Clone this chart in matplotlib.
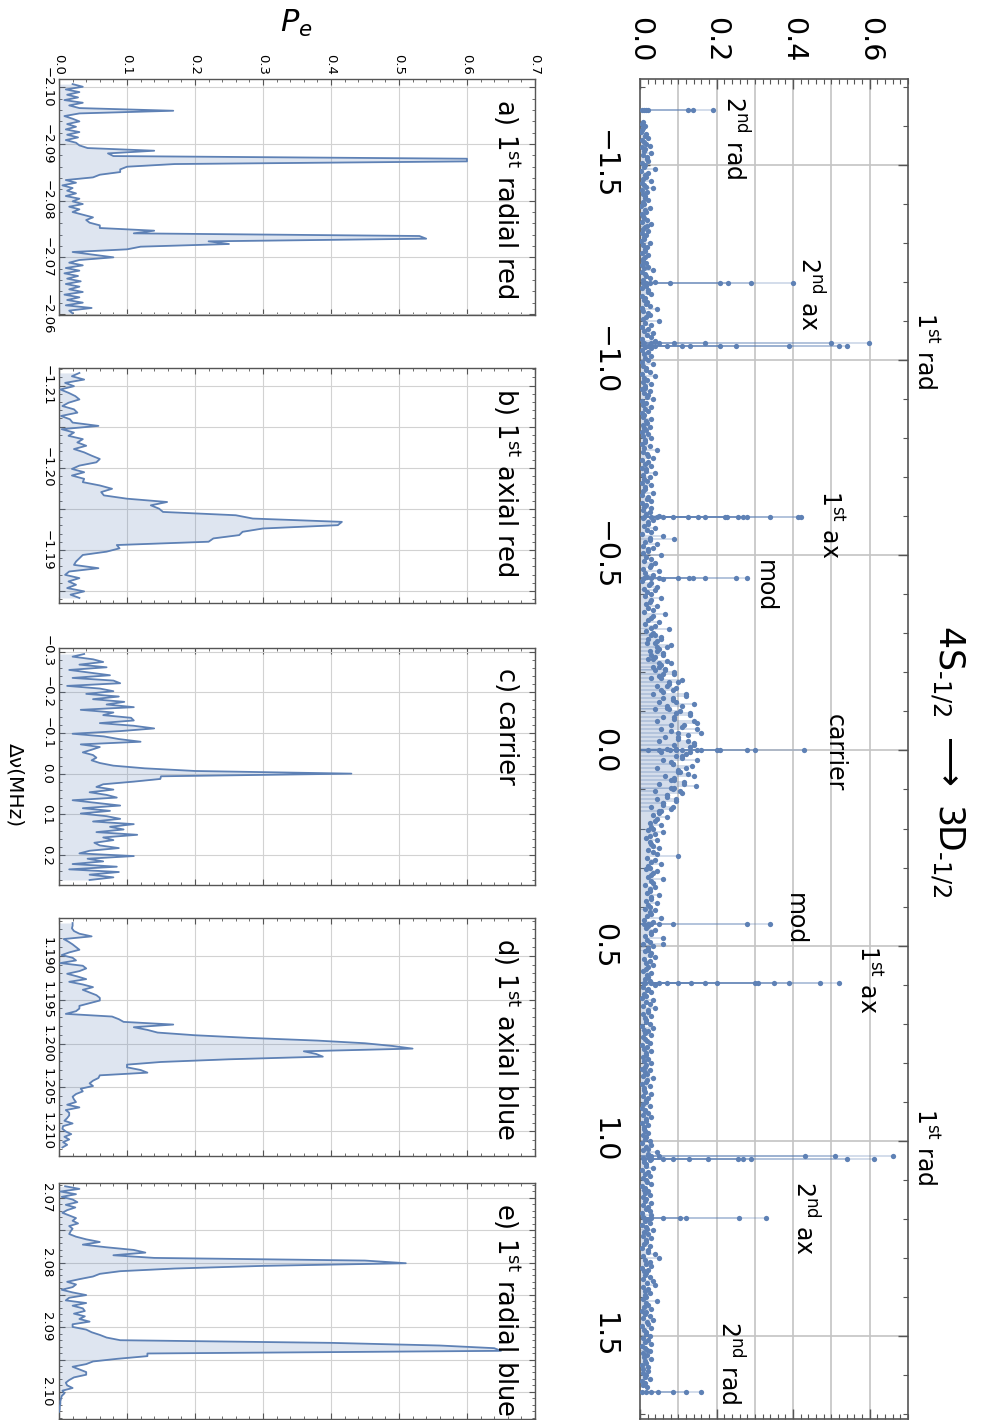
import matplotlib
matplotlib.use("Agg")
import matplotlib.pyplot as plt
import numpy as np
from matplotlib.ticker import MultipleLocator, FuncFormatter

W, H = 981, 1420
blue = "#5E81B5"
gridc = "#c4c4c4"
framec = "#555555"

# ---- overview scan: resonances (detuning in MHz) and the Pe values measured on them
peak_dnu = [-1.641, -1.197, -1.044, -1.036, -0.597, -0.543, -0.441, 0.0,
            0.444, 0.497, 0.597, 1.038, 1.047, 1.197, 1.644]
peak_pe = [
    [0.004, 0.01, 0.016, 0.022, 0.126, 0.139, 0.19],
    [0.008, 0.015, 0.025, 0.078, 0.209, 0.229, 0.29, 0.40],
    [0.01, 0.03, 0.05, 0.09, 0.17, 0.50, 0.599],
    [0.02, 0.04, 0.07, 0.11, 0.13, 0.21, 0.25, 0.39, 0.52, 0.54],
    [0.01, 0.03, 0.045, 0.061, 0.087, 0.126, 0.152, 0.17, 0.222, 0.226,
     0.257, 0.27, 0.279, 0.339, 0.413, 0.42],
    [0.09],
    [0.01, 0.03, 0.05, 0.10, 0.129, 0.139, 0.17, 0.25, 0.28],
    [0.02, 0.05, 0.078, 0.109, 0.15, 0.159, 0.20, 0.209, 0.279, 0.30, 0.429],
    [0.01, 0.03, 0.05, 0.087, 0.279, 0.34],
    [0.06],
    [0.01, 0.03, 0.05, 0.07, 0.10, 0.132, 0.17, 0.20, 0.30, 0.309, 0.35,
     0.39, 0.47, 0.52],
    [0.02, 0.05, 0.43, 0.51, 0.66],
    [0.01, 0.03, 0.06, 0.087, 0.129, 0.178, 0.257, 0.27, 0.29, 0.54, 0.61],
    [0.01, 0.03, 0.06, 0.104, 0.119, 0.259, 0.329],
    [0.005, 0.015, 0.03, 0.048, 0.087, 0.12, 0.159],
]

# background of the scan, one point every 10 kHz, Pe in 1e-3
scan_start, scan_stop = -1.61, 1.63
scan_pe_milli = [
    8, 12, 5, 15, 20, 10, 25, 14, 30, 18, 22, 12, 40, 20, 15, 28, 10, 35, 18, 12,
    20, 10, 25, 15, 8, 18, 30, 12, 20, 15, 10, 25, 18, 12, 22, 8, 15, 20, 35, 14,
    25, 40, 15, 20, 30, 12, 18, 25, 45, 20, 15, 50, 30, 22, 35, 28, 40, 25, 30, 20,
    30, 20, 35, 15, 25, 40, 18, 30, 12, 25, 20, 35, 15, 28, 22, 10, 30, 18, 25, 15,
    20, 30, 12, 25, 45, 18, 35, 22, 30, 15, 40, 25, 18, 30, 12, 35, 20, 28, 15, 30,
    25, 50, 35, 20, 40, 30, 60, 25, 45, 35, 20, 55, 30, 40, 25, 50, 35, 60, 30, 45,
    40, 30, 55, 25, 45, 35, 65, 30, 50, 40, 75, 35, 55, 45, 80, 50, 60, 40, 70, 55,
    65, 90, 50, 110, 75, 95, 60, 120, 85, 140, 70, 105, 130, 90, 150, 110, 80, 125, 100, 140,
    130, 95, 120, 110, 80, 135, 100, 125, 90, 115, 145, 85, 110, 70, 95, 60, 80, 50, 70, 40,
    55, 35, 60, 25, 45, 30, 50, 35, 100, 40, 55, 25, 45, 30, 60, 35, 40, 25, 50, 30,
    45, 25, 40, 30, 55, 35, 20, 40, 30, 60, 25, 35, 20, 30, 40, 25, 35, 15, 30, 20,
    25, 40, 20, 30, 15, 35, 25, 40, 20, 30, 15, 25, 35, 20, 30, 12, 25, 18, 30, 15,
    20, 30, 12, 25, 18, 35, 15, 25, 10, 30, 20, 15, 25, 12, 20, 30, 15, 22, 10, 20,
    15, 25, 30, 20, 45, 30, 25, 15, 35, 20, 25, 15, 30, 12, 20, 25, 15, 30, 20, 25,
    30, 20, 25, 15, 35, 20, 30, 15, 25, 20, 40, 50, 25, 30, 20, 15, 25, 35, 40, 20,
    25, 15, 45, 20, 30, 15, 25, 35, 20, 30, 15, 25, 20, 30, 12, 25, 18, 30, 15, 20,
    20, 15, 25, 12, 18,
]
# second pass of the same scan, shifted by 5 kHz
scan2_start, scan2_stop = -1.605, 1.625
scan2_pe_milli = [
    5, 9, 3, 12, 6, 15, 4, 10, 7, 18, 5, 11, 3, 14, 8, 6, 16, 4, 9, 12,
    7, 3, 13, 5, 10, 4, 17, 8, 6, 11, 3, 9, 14, 5, 12, 7, 4, 10, 6, 15,
    8, 12, 4, 20, 6, 10, 15, 5, 9, 25, 7, 13, 4, 11, 18, 6, 9, 14, 5, 10,
    12, 6, 9, 16, 4, 11, 7, 14, 5, 10, 18, 6, 8, 13, 4, 9, 15, 7, 11, 5,
    9, 14, 5, 11, 7, 20, 6, 12, 4, 15, 8, 10, 5, 13, 9, 6, 17, 4, 11, 8,
    15, 8, 22, 10, 18, 6, 25, 12, 9, 20, 7, 16, 11, 28, 8, 14, 19, 6, 24, 10,
    18, 12, 30, 15, 22, 10, 35, 20, 14, 28, 16, 40, 22, 18, 45, 25, 30, 20, 50, 35,
    40, 60, 30, 75, 45, 55, 35, 85, 50, 70, 40, 95, 60, 45, 80, 55, 100, 65, 50, 90,
    70, 55, 95, 60, 85, 45, 105, 65, 80, 50, 90, 40, 70, 45, 60, 30, 55, 35, 45, 25,
    30, 20, 40, 15, 25, 35, 20, 45, 18, 30, 22, 15, 35, 20, 28, 12, 25, 18, 30, 15,
    20, 12, 25, 18, 10, 22, 15, 28, 12, 18, 8, 20, 14, 25, 10, 16, 22, 9, 18, 12,
    14, 8, 18, 11, 6, 15, 9, 20, 7, 12, 16, 5, 10, 14, 8, 18, 6, 11, 15, 9,
    10, 15, 6, 12, 8, 18, 5, 11, 14, 7, 16, 9, 4, 12, 8, 15, 6, 10, 13, 7,
    12, 6, 15, 9, 20, 7, 11, 16, 5, 13, 8, 18, 6, 10, 14, 7, 12, 9, 15, 6,
    9, 14, 6, 18, 10, 7, 15, 11, 5, 20, 8, 12, 16, 6, 10, 14, 7, 18, 9, 12,
    13, 7, 16, 10, 5, 14, 8, 18, 6, 11, 15, 9, 12, 6, 17, 8, 10, 14, 5, 9,
    8, 12, 5, 7,
]
# extra points in the crowded region around the carrier
carrier_start, carrier_stop = -0.295, 0.155
carrier_pe_milli = [
    30, 55, 40, 70, 45, 60, 35, 80, 50, 65, 90, 55, 100, 70, 85, 120, 60, 95, 110, 75,
    130, 90, 140, 115, 150, 160, 100, 125, 140, 95, 130, 110, 150, 85, 120, 100, 140, 90,
    115, 80, 105, 70, 95, 60, 85, 50,
]

# ---- fine scans
a_start, a_stop = -2.1006, -2.0601
a_pe = [
    0.020, 0.035, 0.010, 0.030, 0.012, 0.028, 0.008, 0.035, 0.015, 0.030,
    0.168, 0.030, 0.008, 0.020, 0.030, 0.012, 0.025, 0.010, 0.030, 0.012,
    0.028, 0.010, 0.025, 0.030, 0.042, 0.140, 0.072, 0.080, 0.600, 0.600,
    0.170, 0.100, 0.090, 0.090, 0.060, 0.050, 0.010, 0.025, 0.005, 0.020,
    0.012, 0.025, 0.010, 0.030, 0.020, 0.035, 0.015, 0.030, 0.020, 0.035,
    0.050, 0.040, 0.045, 0.060, 0.060, 0.140, 0.110, 0.530, 0.540, 0.220,
    0.250, 0.120, 0.100, 0.020, 0.050, 0.080, 0.030, 0.015, 0.035, 0.010,
    0.030, 0.008, 0.028, 0.012, 0.032, 0.010, 0.030, 0.015, 0.035, 0.008,
    0.030, 0.012, 0.035, 0.010, 0.048, 0.015, 0.020,
]
b_start, b_stop = -1.21153, -1.18417
b_pe = [
    0.030, 0.019, 0.037, 0.009, 0.022, 0.002, 0.014, 0.024, 0.030, 0.014,
    0.005, 0.022, 0.027, 0.003, 0.016, 0.020, 0.058, 0.004, 0.022, 0.014,
    0.035, 0.027, 0.040, 0.022, 0.037, 0.048, 0.060, 0.055, 0.030, 0.019,
    0.037, 0.019, 0.037, 0.035, 0.060, 0.078, 0.062, 0.066, 0.100, 0.159,
    0.135, 0.147, 0.153, 0.260, 0.285, 0.416, 0.410, 0.300, 0.270, 0.265,
    0.227, 0.220, 0.085, 0.089, 0.070, 0.035, 0.030, 0.025, 0.022, 0.058,
    0.015, 0.009, 0.030, 0.014, 0.025, 0.012, 0.037, 0.017, 0.030,
]
c_start, c_stop = -0.2939, 0.2612
c_pe = [
    0.037, 0.020, 0.050, 0.065, 0.030, 0.070, 0.015, 0.045, 0.075, 0.020,
    0.080, 0.090, 0.012, 0.060, 0.080, 0.040, 0.088, 0.050, 0.096, 0.070,
    0.110, 0.032, 0.080, 0.065, 0.106, 0.110, 0.060, 0.110, 0.140, 0.090,
    0.020, 0.066, 0.088, 0.120, 0.032, 0.060, 0.048, 0.035, 0.050, 0.055,
    0.048, 0.060, 0.080, 0.126, 0.200, 0.430, 0.150, 0.149, 0.110, 0.065,
    0.055, 0.080, 0.045, 0.070, 0.085, 0.020, 0.055, 0.090, 0.035, 0.075,
    0.032, 0.070, 0.090, 0.050, 0.110, 0.075, 0.095, 0.055, 0.115, 0.065,
    0.080, 0.052, 0.060, 0.088, 0.045, 0.030, 0.110, 0.042, 0.065, 0.020,
    0.085, 0.015, 0.088, 0.045, 0.080, 0.045,
]
d_start, d_stop = 1.18627, 1.21183
d_pe = [
    0.020, 0.020, 0.019, 0.022, 0.030, 0.048, 0.007, 0.014, 0.020, 0.025,
    0.030, 0.015, 0.004, 0.020, 0.025, 0.002, 0.035, 0.040, 0.030, 0.012,
    0.027, 0.040, 0.015, 0.035, 0.050, 0.035, 0.045, 0.055, 0.060, 0.060,
    0.045, 0.030, 0.030, 0.025, 0.010, 0.078, 0.088, 0.095, 0.168, 0.110,
    0.130, 0.145, 0.200, 0.280, 0.380, 0.450, 0.490, 0.520, 0.360, 0.378,
    0.388, 0.250, 0.150, 0.100, 0.100, 0.120, 0.130, 0.060, 0.058, 0.050,
    0.045, 0.050, 0.032, 0.035, 0.025, 0.020, 0.022, 0.025, 0.012, 0.030,
    0.010, 0.015, 0.015, 0.012, 0.008, 0.020, 0.006, 0.005, 0.010, 0.018,
    0.008, 0.015, 0.006, 0.012, 0.005,
]
e_start, e_stop = 2.0682, 2.1031
e_pe = [
    0.009, 0.030, 0.002, 0.025, 0.004, 0.020, 0.027, 0.010, 0.024, 0.012,
    0.005, 0.015, 0.025, 0.020, 0.028, 0.015, 0.020, 0.017, 0.015, 0.025,
    0.040, 0.060, 0.035, 0.070, 0.110, 0.127, 0.080, 0.140, 0.450, 0.510,
    0.300, 0.170, 0.090, 0.060, 0.050, 0.030, 0.012, 0.025, 0.020, 0.004,
    0.020, 0.040, 0.015, 0.010, 0.040, 0.020, 0.035, 0.038, 0.022, 0.038,
    0.030, 0.045, 0.020, 0.020, 0.040, 0.048, 0.060, 0.070, 0.090, 0.400,
    0.560, 0.640, 0.650, 0.130, 0.130, 0.086, 0.050, 0.040, 0.020, 0.030,
    0.040, 0.040, 0.022, 0.015, 0.010, 0.012, 0.020, 0.005, 0.008, 0.004,
    0.003, 0.002, 0.002, 0.001, 0.001, 0.000,
]

# peak labels on the overview: (text, Pe, detuning)
labels = [
    (r"2$^{\mathrm{nd}}$ rad", 0.248, -1.569),
    (r"2$^{\mathrm{nd}}$ ax", 0.444, -1.169),
    (r"1$^{\mathrm{st}}$ rad", 0.744, -1.023),
    (r"1$^{\mathrm{st}}$ ax", 0.496, -0.579),
    ("mod", 0.326, -0.421),
    ("carrier", 0.509, 0.005),
    ("mod", 0.405, 0.433),
    (r"1$^{\mathrm{st}}$ ax", 0.595, 0.585),
    (r"1$^{\mathrm{st}}$ rad", 0.744, 1.015),
    (r"2$^{\mathrm{nd}}$ ax", 0.431, 1.197),
    (r"2$^{\mathrm{nd}}$ rad", 0.235, 1.569),
]


def minus(s):
    return s.replace("-", "\u2212")


def px_rect(x0, y0, x1, y1):
    return [x0 / W, 1 - y1 / H, (x1 - x0) / W, (y1 - y0) / H]


def step_fmt(step, spec):
    def f(v, p):
        if abs(v / step - round(v / step)) > 1e-6:
            return ""
        if abs(v) < 1e-9:
            v = 0.0
        return minus(spec.format(v))
    return FuncFormatter(f)


def style_frame(ax, lw=1.0):
    for s in ax.spines.values():
        s.set_color(framec)
        s.set_linewidth(lw)


fig = plt.figure(figsize=(W / 100, H / 100), dpi=100)

# ---------------- overview
ax = fig.add_axes(px_rect(640, 79, 908, 1419))
ax.set_xlim(0, 0.7)
ax.set_ylim(1.713, -1.7205)
for v in np.arange(0.1, 0.65, 0.1):
    ax.axvline(v, color=gridc, lw=1.2, zorder=0)
for v in np.arange(-1.5, 1.6, 0.5):
    ax.axhline(v, color=gridc, lw=1.2, zorder=0)

scan_dnu = np.linspace(scan_start, scan_stop, len(scan_pe_milli))
scan2_dnu = np.linspace(scan2_start, scan2_stop, len(scan2_pe_milli))
carrier_dnu = np.linspace(carrier_start, carrier_stop, len(carrier_pe_milli))
pk_dnu = np.repeat(peak_dnu, [len(p) for p in peak_pe])
dnu_all = np.concatenate([scan_dnu, scan2_dnu, carrier_dnu, pk_dnu])
pe_all = np.concatenate([np.array(scan_pe_milli) / 1000,
                         np.array(scan2_pe_milli) / 1000,
                         np.array(carrier_pe_milli) / 1000,
                         np.concatenate(peak_pe)])
ax.hlines(dnu_all, 0, pe_all, color=blue, alpha=0.35, lw=1.1, zorder=2)
ax.plot(pe_all, dnu_all, "o", color=blue, ms=3.8, mec="none", zorder=3)

for txt, x, y in labels:
    ax.text(x, y, txt, rotation=-90, ha="center", va="center", fontsize=17)

ax.set_xticks([0, 0.2, 0.4, 0.6])
ax.xaxis.set_minor_locator(MultipleLocator(0.02))
ax.xaxis.set_major_formatter(FuncFormatter(lambda v, p: minus(f"{v:.1f}")))
ax.set_yticks(np.arange(-1.5, 1.51, 0.5))
ax.yaxis.set_minor_locator(MultipleLocator(0.1))
ax.yaxis.set_major_formatter(step_fmt(0.5, "{:.1f}"))
ax.tick_params(which="both", direction="in", top=True, bottom=True, left=True, right=True,
               labeltop=True, labelbottom=False, color=framec)
ax.tick_params(which="major", length=7, width=1, labelsize=20.5)
ax.tick_params(which="minor", length=3.5, width=0.8)
ax.tick_params(axis="x", pad=12, labelrotation=-90)
ax.tick_params(axis="y", pad=16, labelrotation=-90)
plt.setp(ax.get_xticklabels(), ha="center", va="bottom")
plt.setp(ax.get_yticklabels(), ha="right", va="center")
style_frame(ax, 1.2)

# ---------------- fine scans
panels = [
    ((59, 79, 535, 315), (-2.1015, -2.0598), a_start, a_stop, a_pe,
     0.01, 0.01, 0.002, "{:.2f}", r"a) 1$^{\mathrm{st}}$ radial red"),
    ((59, 368, 535, 603), (-1.21213, -1.18356), b_start, b_stop, b_pe,
     0.005, 0.01, 0.001, "{:.2f}", r"b) 1$^{\mathrm{st}}$ axial red"),
    ((59, 648, 535, 885), (-0.3086, 0.2735), c_start, c_stop, c_pe,
     0.1, 0.1, 0.02, "{:.1f}", "c) carrier"),
    ((59, 918, 535, 1156), (1.1857, 1.2128), d_start, d_stop, d_pe,
     0.005, 0.005, 0.001, "{:.3f}", r"d) 1$^{\mathrm{st}}$ axial blue"),
    ((59, 1183, 535, 1419), (2.0677, 2.1042), e_start, e_stop, e_pe,
     0.005, 0.01, 0.001, "{:.2f}", r"e) 1$^{\mathrm{st}}$ radial blue"),
]

for i, (rect, lim, start, stop, pe, gstep, lstep, mstep, spec, title) in enumerate(panels):
    pax = fig.add_axes(px_rect(*rect))
    dnu = np.linspace(start, stop, len(pe))
    pax.fill_betweenx(dnu, 0, pe, color=blue, alpha=0.2, lw=0, zorder=2)
    pax.plot(pe, dnu, color=blue, lw=1.3, zorder=3)
    pax.set_xlim(0, 0.7)
    pax.set_ylim(lim[1], lim[0])
    pax.xaxis.set_major_locator(MultipleLocator(0.1))
    pax.xaxis.set_minor_locator(MultipleLocator(0.02))
    pax.xaxis.set_major_formatter(FuncFormatter(lambda v, p: f"{abs(v):.1f}"))
    pax.yaxis.set_major_locator(MultipleLocator(gstep))
    pax.yaxis.set_minor_locator(MultipleLocator(mstep))
    pax.yaxis.set_major_formatter(step_fmt(lstep, spec))
    pax.grid(True, which="major", color="#d2d2d2", lw=0.8, zorder=0)
    pax.set_axisbelow(True)
    pax.tick_params(which="both", direction="in", top=True, bottom=True, left=True, right=True,
                    labeltop=(i == 0), labelbottom=False, color=framec, labelsize=9.5)
    pax.tick_params(which="major", length=4, width=0.8)
    pax.tick_params(which="minor", length=2, width=0.6)
    pax.tick_params(axis="x", pad=3, labelrotation=-90)
    pax.tick_params(axis="y", pad=4, labelrotation=-90)
    plt.setp(pax.get_xticklabels(), ha="center", va="bottom")
    plt.setp(pax.get_yticklabels(), ha="right", va="center")
    style_frame(pax)
    pax.text(0.94, 0.915, title, transform=pax.transAxes, rotation=-90,
             ha="center", va="top", fontsize=18.5)

fig.text(296 / W, 1 - 23 / H, r"$P_e$", fontsize=22, ha="center", va="center")
fig.text(15 / W, 1 - 785 / H, "Δν(MHz)", rotation=-90, fontsize=14.5,
         ha="center", va="center")
fig.text(947 / W, 1 - 761 / H,
         "4S$_{\\mathregular{\u20101/2}}$ $\\longrightarrow$ 3D$_{\\mathregular{\u20101/2}}$",
         rotation=-90, fontsize=25, ha="center", va="center")

fig.savefig("out.png", dpi=100)
